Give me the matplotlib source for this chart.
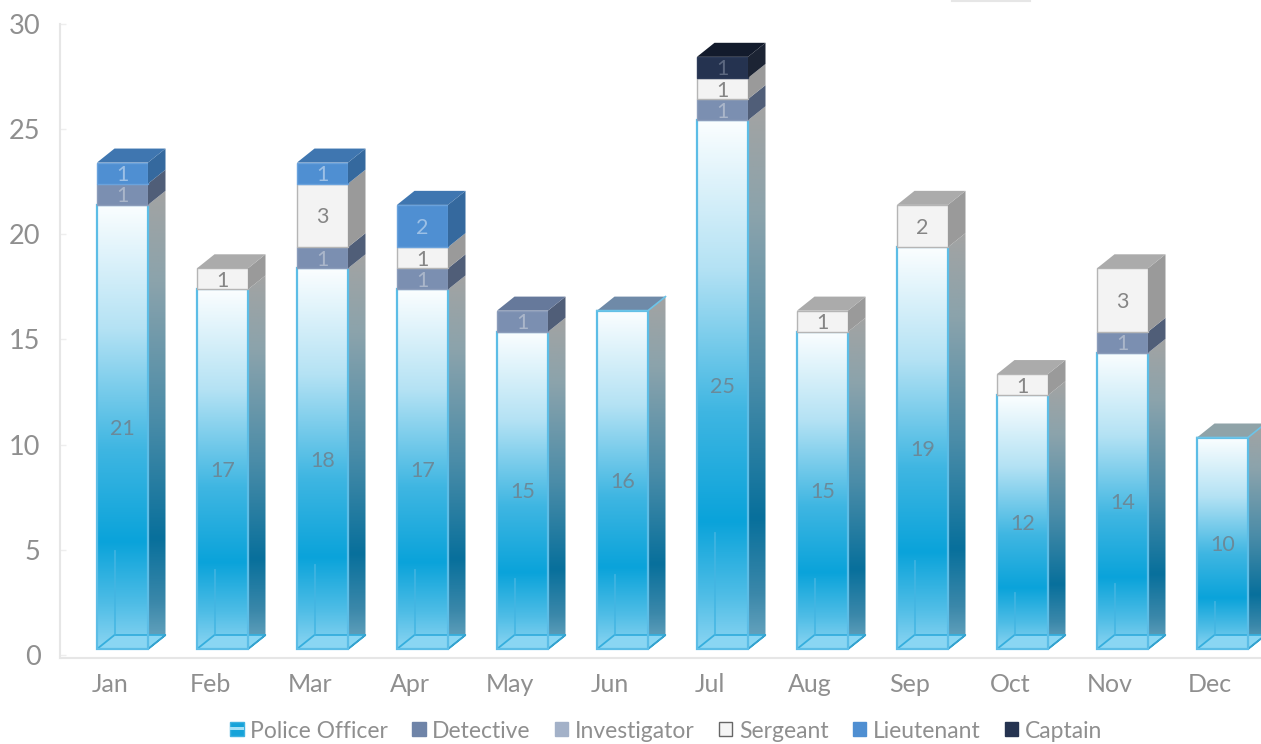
import numpy as np
import matplotlib
matplotlib.use("Agg")
import matplotlib.pyplot as plt
from matplotlib.colors import LinearSegmentedColormap
from matplotlib.patches import Polygon, Patch, Rectangle
from matplotlib.lines import Line2D
from matplotlib.legend_handler import HandlerPatch

months = ["Jan", "Feb", "Mar", "Apr", "May", "Jun", "Jul", "Aug", "Sep", "Oct", "Nov", "Dec"]
police_officer = [21, 17, 18, 17, 15, 16, 25, 15, 19, 12, 14, 10]
detective = [1, 0, 1, 1, 1, 0, 1, 0, 0, 0, 1, 0]
investigator = [0] * 12
sergeant = [0, 1, 3, 1, 0, 0, 1, 1, 2, 1, 3, 0]
lieutenant = [1, 0, 1, 2, 0, 0, 0, 0, 0, 0, 0, 0]
captain = [0, 0, 0, 0, 0, 0, 1, 0, 0, 0, 0, 0]
y_ticks = [0, 5, 10, 15, 20, 25, 30]

W, H = 1261, 744
plt.rcParams["font.family"] = ["Lato", "DejaVu Sans"]
GREY = "#8f8f8f"

fig = plt.figure(figsize=(W / 100, H / 100), dpi=100, facecolor="white")

def axes_px(x0, x1, ytop, ybot):
    return fig.add_axes([x0 / W, 1 - ybot / H, (x1 - x0) / W, (ybot - ytop) / H])

# frame axes: spines and tick labels
frame = axes_px(60, W, 24, 658)
frame.set_ylim(-3 / 21.03, 30)
frame.set_xlim(-0.50, 11.51)
frame.set_yticks(y_ticks)
frame.set_xticks(range(12), months)
frame.tick_params(axis="y", direction="in", length=4, width=1, color="#eeeeee", pad=14, labelsize=19.5, labelcolor=GREY)
frame.tick_params(axis="x", length=0, pad=10.5, labelsize=18, labelcolor=GREY)
for s in ("top", "right"):
    frame.spines[s].set_visible(False)
for s in ("left", "bottom"):
    frame.spines[s].set_color("#e6e6e6")
    frame.spines[s].set_linewidth(1.5)

# bar axes: y=0 at pixel 649, 21.15 px per unit
PX = 21.15
ax = axes_px(59, W, 0, 744)
ax.set_xlim(-0.51, 11.51)
ax.set_ylim(-(744 - 649) / PX, 649 / PX)
ax.axis("off")
ax.patch.set_alpha(0)

OFFSET, WIDTH, DX, DY = 0.125, 0.51, 0.175, 14 / PX
front_cmap = LinearSegmentedColormap.from_list("front", [
    (0.00, "#8bd5f2"), (0.10, "#4fbde6"), (0.24, "#0aa3da"),
    (0.45, "#3fb6e2"), (0.72, "#b4e2f4"), (1.00, "#fbfeff")])
side_cmap = LinearSegmentedColormap.from_list("side", [
    (0.00, "#6fa9c2"), (0.10, "#3b88aa"), (0.24, "#08709c"),
    (0.50, "#4a8ca8"), (0.80, "#8ba3ac"), (1.00, "#a3a3a3")])
grad = np.linspace(1, 0, 256).reshape(-1, 1)

styles = {
    "detective": dict(front="#7b8fb1", side="#505e78", top="#66799b", edge="#8b9cba", txt="#aab6ca"),
    "sergeant": dict(front="#f3f3f3", side="#9a9a9a", top="#ababab", edge="#b5b5b5", txt="#858585"),
    "lieutenant": dict(front="#4f8fd2", side="#35699e", top="#3f76b0", edge="#6aa2dc", txt="#9cc0e6"),
    "captain": dict(front="#253350", side="#1c2434", top="#131b2c", edge="#2d3b58", txt="#5c6880"),
}
series = [("detective", detective), ("investigator", investigator), ("sergeant", sergeant),
          ("lieutenant", lieutenant), ("captain", captain)]

for i, p in enumerate(police_officer):
    x0 = i + OFFSET - WIDTH / 2
    x1 = x0 + WIDTH
    # floor and back edges seen through the glass
    ax.add_patch(Polygon([(x0, 0), (x1, 0), (x1 + DX, DY), (x0 + DX, DY)], closed=True,
                         facecolor="#8ad6f3", edgecolor="#35aedd", lw=1.3, zorder=4))
    # side face
    side = Polygon([(x1, 0), (x1 + DX, DY), (x1 + DX, p + DY), (x1, p)], closed=True,
                   facecolor="none", edgecolor="none", zorder=2)
    ax.add_patch(side)
    im = ax.imshow(grad, extent=(x1, x1 + DX, 0, p + DY), cmap=side_cmap, vmin=0, vmax=1,
                   aspect="auto", zorder=2)
    im.set_clip_path(side)
    # front face
    bar = ax.bar(i + OFFSET, p, WIDTH, color="none", edgecolor="#5cbde6", linewidth=1.6, zorder=6)[0]
    im = ax.imshow(grad, extent=(x0, x1, 0, p), cmap=front_cmap, vmin=0, vmax=1,
                   aspect="auto", zorder=3)
    im.set_clip_path(bar)
    # inner back edges
    ax.plot([x0 + DX, x0 + DX], [DY, p * 0.22], color="#43b5e2", lw=1.3, alpha=0.85, zorder=5)
    ax.plot([x1, x1 + DX, x1 + DX, x1], [0, DY, DY, 0], color="#35a3cf", lw=1.0, zorder=5)
    ax.text(i + OFFSET, p / 2, str(p), ha="center", va="center_baseline", fontsize=15.5, color="#6a8a9a", zorder=9)

    bottom = p
    top_style = dict(top="#8c9da6")
    if not any(v[i] for _, v in series):
        top_style = dict(top="#6f8aa8" if p == 16 else "#8fa3a8")
    for name, vals in series:
        v = vals[i]
        if not v:
            continue
        st = styles[name]
        ax.bar(i + OFFSET, v, WIDTH, bottom=bottom, color=st["front"], edgecolor=st["edge"], linewidth=1.0, zorder=7)
        ax.add_patch(Polygon([(x1, bottom), (x1 + DX, bottom + DY), (x1 + DX, bottom + v + DY), (x1, bottom + v)],
                             closed=True, facecolor=st["side"], edgecolor="none", zorder=7))
        ax.text(i + OFFSET, bottom + v / 2, str(v), ha="center", va="center_baseline", fontsize=15.5, color=st["txt"], zorder=9)
        bottom += v
        top_style = st
    # roof
    ax.add_patch(Polygon([(x0, bottom), (x1, bottom), (x1 + DX, bottom + DY), (x0 + DX, bottom + DY)],
                         closed=True, facecolor=top_style["top"], edgecolor="none", zorder=8))
    if bottom == p:
        ax.plot([x0, x1, x1 + DX], [p, p, p + DY], color="#6cc4e8", lw=1.2, zorder=8)


class PoliceHandler(HandlerPatch):
    def create_artists(self, legend, orig_handle, xdescent, ydescent, width, height, fontsize, trans):
        base = Rectangle((-xdescent, -ydescent), width, height, facecolor="#16a3d9",
                         edgecolor="#3fb2e0", lw=1, transform=trans)
        band = Rectangle((-xdescent, -ydescent + height * 0.42), width, height * 0.25,
                         facecolor="#a5e0f6", edgecolor="none", transform=trans)
        return [base, band]


police_handle = Patch(facecolor="#1fa8dc", edgecolor="#58bfe8", label="Police Officer")
handles = [
    police_handle,
    Patch(facecolor="#6f84a8", edgecolor="#6f84a8", label="Detective"),
    Patch(facecolor="#a3b1c8", edgecolor="#a3b1c8", label="Investigator"),
    Patch(facecolor="#f5f5f5", edgecolor="#666666", label="Sergeant"),
    Patch(facecolor="#4f8fd2", edgecolor="#4f8fd2", label="Lieutenant"),
    Patch(facecolor="#253350", edgecolor="#253350", label="Captain"),
]
fig.legend(handles=handles, loc="center", bbox_to_anchor=(666 / W, 1 - 731 / H), ncol=6, frameon=False,
           fontsize=16.5, labelcolor=GREY, handlelength=0.6, handleheight=0.55, handletextpad=0.28,
           columnspacing=1.05, borderpad=0, borderaxespad=0, handler_map={police_handle: PoliceHandler()})

# faint smudge at the top edge of the reference
fig.add_artist(Line2D([952 / W, 1030 / W], [1 - 1 / H, 1 - 1 / H], color="#e6e6e6", lw=1.5))

fig.savefig("out.png", dpi=100, facecolor="white")
